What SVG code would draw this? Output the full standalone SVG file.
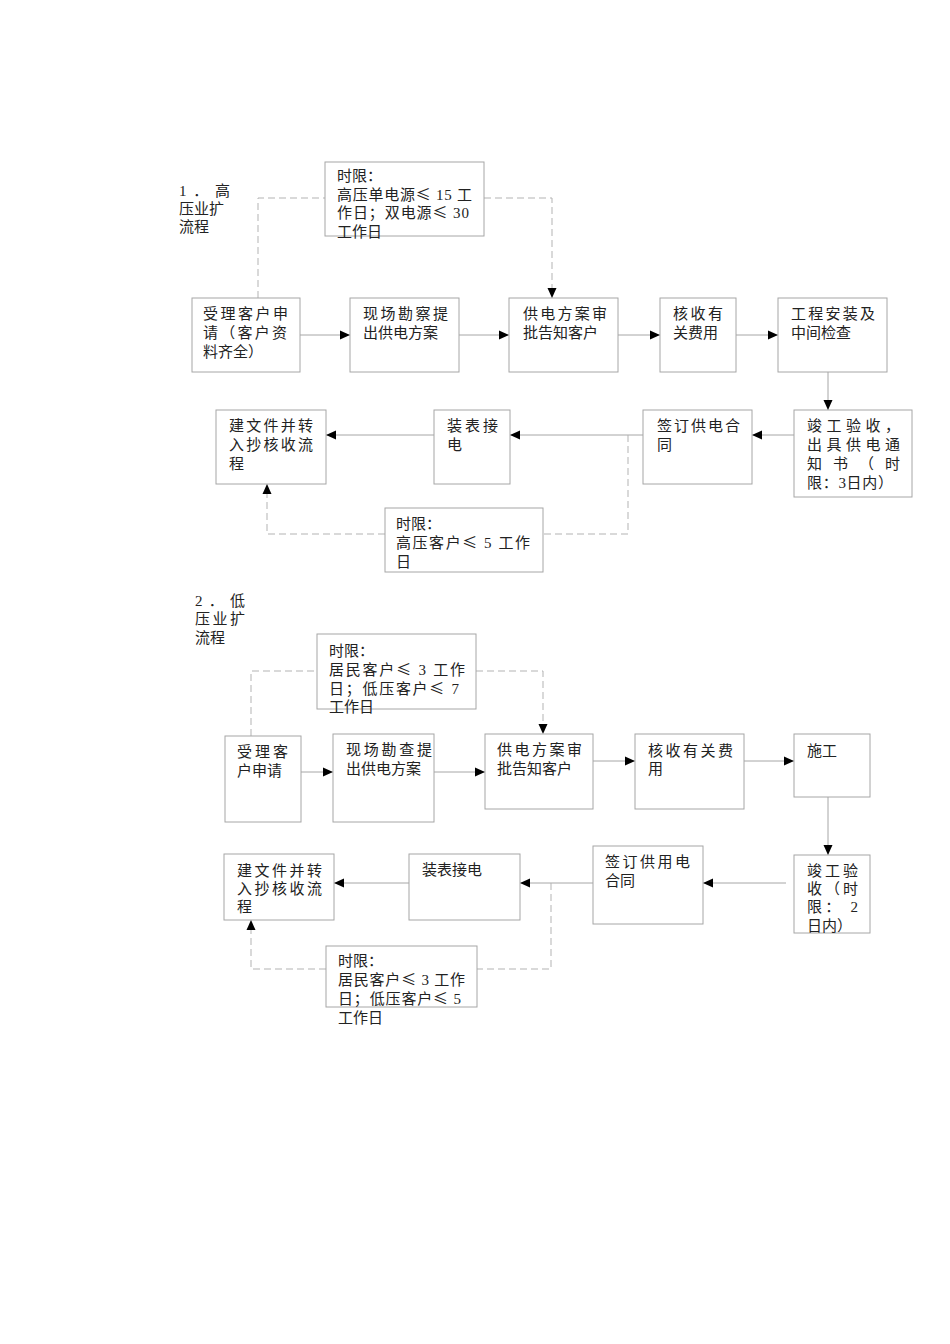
<svg xmlns="http://www.w3.org/2000/svg" width="950" height="1344" viewBox="0 0 950 1344">
<style>
.b{fill:#fff;stroke:#a6a6a6;stroke-width:1}
.c{fill:none;stroke:#a6a6a6;stroke-width:1}
.d{fill:none;stroke:#b3b3b3;stroke-width:1;stroke-dasharray:7,4}
text{font-family:"Liberation Serif","Noto Sans CJK SC",sans-serif;font-size:15px;fill:#222}
.k{font-family:"Noto Sans CJK SC",sans-serif}
</style>
<defs>
<marker id="ah" markerUnits="userSpaceOnUse" markerWidth="10" markerHeight="10" refX="10" refY="5" orient="auto"><path d="M0,0.5 L10,5 L0,9.5 z" fill="#000"/></marker>
</defs>
<rect width="950" height="1344" fill="#fff"/>

<g id="connectors">
<path class="c" d="M300,335 H350" marker-end="url(#ah)"/>
<path class="c" d="M459,335 H509" marker-end="url(#ah)"/>
<path class="c" d="M618,335 H660" marker-end="url(#ah)"/>
<path class="c" d="M736,335 H778" marker-end="url(#ah)"/>
<path class="c" d="M828,372 V410" marker-end="url(#ah)"/>
<path class="c" d="M794,435 H752" marker-end="url(#ah)"/>
<path class="c" d="M643,435 H510" marker-end="url(#ah)"/>
<path class="c" d="M434,435 H326" marker-end="url(#ah)"/>
<path class="d" d="M258,298 V198 H325"/>
<path class="d" d="M484,198 H552 V298" marker-end="url(#ah)"/>
<path class="d" d="M628,435 V534 H543"/>
<path class="d" d="M385,534 H267 V484" marker-end="url(#ah)"/>

<path class="c" d="M301,772 H333" marker-end="url(#ah)"/>
<path class="c" d="M434,772 H485" marker-end="url(#ah)"/>
<path class="c" d="M593,761 H635" marker-end="url(#ah)"/>
<path class="c" d="M744,761 H794" marker-end="url(#ah)"/>
<path class="c" d="M828,797 V855" marker-end="url(#ah)"/>
<path class="c" d="M786,883 H703" marker-end="url(#ah)"/>
<path class="c" d="M593,883 H520" marker-end="url(#ah)"/>
<path class="c" d="M409,883 H334" marker-end="url(#ah)"/>
<path class="d" d="M251,736 V671 H317"/>
<path class="d" d="M476,671 H543 V734" marker-end="url(#ah)"/>
<path class="d" d="M551,883 V969 H477"/>
<path class="d" d="M326,969 H251 V920" marker-end="url(#ah)"/>
</g>

<g id="label1">
<text x="179" y="196" textLength="51" lengthAdjust="spacing">1．高</text>
<text x="179" y="214">压业扩</text>
<text x="179" y="232">流程</text>
</g>

<g id="limit1">
<rect class="b" x="325" y="162" width="159" height="74"/>
<text x="337" y="181">时限：</text>
<text x="337" y="200" textLength="135" lengthAdjust="spacing">高压单电源<tspan class="k">≤</tspan> 15 工</text>
<text x="337" y="218" textLength="132" lengthAdjust="spacing">作日；双电源<tspan class="k">≤</tspan> 30</text>
<text x="337" y="237">工作日</text>
</g>

<g id="h1">
<rect class="b" x="192" y="298" width="108" height="74"/>
<text x="203" y="319" textLength="85" lengthAdjust="spacing">受理客户申</text>
<text x="203" y="338" textLength="84" lengthAdjust="spacing">请（客户资</text>
<text x="203" y="357">料齐全）</text>
</g>
<g id="h2">
<rect class="b" x="350" y="298" width="109" height="74"/>
<text x="363" y="319" textLength="85" lengthAdjust="spacing">现场勘察提</text>
<text x="363" y="338">出供电方案</text>
</g>
<g id="h3">
<rect class="b" x="509" y="298" width="109" height="74"/>
<text x="523" y="319" textLength="84" lengthAdjust="spacing">供电方案审</text>
<text x="523" y="338">批告知客户</text>
</g>
<g id="h4">
<rect class="b" x="660" y="298" width="76" height="74"/>
<text x="673" y="319" textLength="50" lengthAdjust="spacing">核收有</text>
<text x="673" y="338">关费用</text>
</g>
<g id="h5">
<rect class="b" x="778" y="298" width="109" height="74"/>
<text x="791" y="319" textLength="84" lengthAdjust="spacing">工程安装及</text>
<text x="791" y="338">中间检查</text>
</g>
<g id="h6">
<rect class="b" x="794" y="410" width="118" height="87"/>
<text x="807" y="431" textLength="93" lengthAdjust="spacing">竣工验收，</text>
<text x="807" y="450" textLength="93" lengthAdjust="spacing">出具供电通</text>
<text x="807" y="469" textLength="93" lengthAdjust="spacing">知书（时</text>
<text x="807" y="488" textLength="86" lengthAdjust="spacing">限：3日内）</text>
</g>
<g id="h7">
<rect class="b" x="643" y="410" width="109" height="74"/>
<text x="657" y="431" textLength="83" lengthAdjust="spacing">签订供电合</text>
<text x="657" y="450">同</text>
</g>
<g id="h8">
<rect class="b" x="434" y="410" width="76" height="74"/>
<text x="447" y="431" textLength="51" lengthAdjust="spacing">装表接</text>
<text x="447" y="450">电</text>
</g>
<g id="h9">
<rect class="b" x="216" y="410" width="110" height="74"/>
<text x="229" y="431" textLength="84" lengthAdjust="spacing">建文件并转</text>
<text x="229" y="450" textLength="84" lengthAdjust="spacing">入抄核收流</text>
<text x="229" y="469">程</text>
</g>
<g id="limit2">
<rect class="b" x="385" y="508" width="158" height="64"/>
<text x="396" y="529">时限：</text>
<text x="396" y="548" textLength="134" lengthAdjust="spacing">高压客户<tspan class="k">≤</tspan> 5 工作</text>
<text x="396" y="567">日</text>
</g>

<g id="label2">
<text x="195" y="606" textLength="50" lengthAdjust="spacing">2．低</text>
<text x="195" y="624" textLength="50" lengthAdjust="spacing">压业扩</text>
<text x="195" y="643">流程</text>
</g>

<g id="limit3">
<rect class="b" x="317" y="634" width="159" height="75"/>
<text x="329" y="656">时限：</text>
<text x="329" y="675" textLength="136" lengthAdjust="spacing">居民客户<tspan class="k">≤</tspan> 3 工作</text>
<text x="329" y="694" textLength="130" lengthAdjust="spacing">日；低压客户<tspan class="k">≤</tspan> 7</text>
<text x="329" y="712">工作日</text>
</g>

<g id="l1">
<rect class="b" x="225" y="736" width="76" height="86"/>
<text x="237" y="757" textLength="51" lengthAdjust="spacing">受理客</text>
<text x="237" y="776">户申请</text>
</g>
<g id="l2">
<rect class="b" x="333" y="734" width="101" height="88"/>
<text x="346" y="755" textLength="86" lengthAdjust="spacing">现场勘查提</text>
<text x="346" y="774">出供电方案</text>
</g>
<g id="l3">
<rect class="b" x="485" y="734" width="108" height="75"/>
<text x="497" y="755" textLength="85" lengthAdjust="spacing">供电方案审</text>
<text x="497" y="774">批告知客户</text>
</g>
<g id="l4">
<rect class="b" x="635" y="734" width="109" height="75"/>
<text x="648" y="756" textLength="85" lengthAdjust="spacing">核收有关费</text>
<text x="648" y="774">用</text>
</g>
<g id="l5">
<rect class="b" x="794" y="734" width="76" height="63"/>
<text x="807" y="756">施工</text>
</g>
<g id="l6">
<rect class="b" x="794" y="855" width="76" height="78"/>
<text x="807" y="876" textLength="51" lengthAdjust="spacing">竣工验</text>
<text x="807" y="894" textLength="51" lengthAdjust="spacing">收（时</text>
<text x="807" y="912" textLength="51" lengthAdjust="spacing">限： 2</text>
<text x="807" y="931">日内）</text>
</g>
<g id="l7">
<rect class="b" x="593" y="846" width="110" height="78"/>
<text x="605" y="867" textLength="85" lengthAdjust="spacing">签订供用电</text>
<text x="605" y="886">合同</text>
</g>
<g id="l8">
<rect class="b" x="409" y="854" width="111" height="66"/>
<text x="422" y="875">装表接电</text>
</g>
<g id="l9">
<rect class="b" x="224" y="854" width="110" height="66"/>
<text x="237" y="876" textLength="85" lengthAdjust="spacing">建文件并转</text>
<text x="237" y="894" textLength="85" lengthAdjust="spacing">入抄核收流</text>
<text x="237" y="912">程</text>
</g>
<g id="limit4">
<rect class="b" x="326" y="946" width="151" height="61"/>
<text x="338" y="966">时限：</text>
<text x="338" y="985" textLength="127" lengthAdjust="spacing">居民客户<tspan class="k">≤</tspan> 3 工作</text>
<text x="338" y="1004" textLength="123" lengthAdjust="spacing">日；低压客户<tspan class="k">≤</tspan> 5</text>
<text x="338" y="1023">工作日</text>
</g>
</svg>
